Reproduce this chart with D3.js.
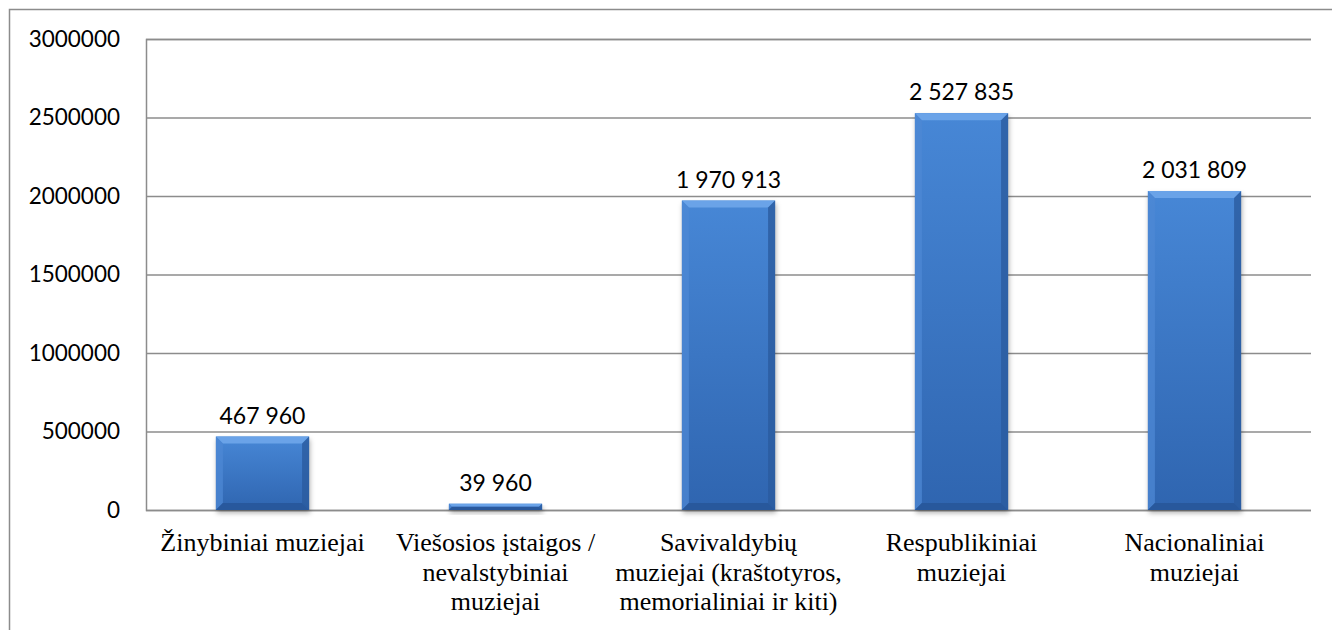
<!DOCTYPE html>
<html>
<head>
<meta charset="utf-8">
<script src="https://cdn.jsdelivr.net/npm/d3@7"></script>
<style>
  html, body { margin: 0; padding: 0; background: #fff; }
  svg { display: block; }
</style>
</head>
<body>
<svg id="chart" width="1332" height="630"></svg>
<script>
// Museum visitors by museum type
const categories = [
  ["Žinybiniai muziejai"],
  ["Viešosios įstaigos /", "nevalstybiniai", "muziejai"],
  ["Savivaldybių", "muziejai (kraštotyros,", "memorialiniai ir kiti)"],
  ["Respublikiniai", "muziejai"],
  ["Nacionaliniai", "muziejai"]
];
const values = [467960, 39960, 1970913, 2527835, 2031809];
const yTicks = [0, 500000, 1000000, 1500000, 2000000, 2500000, 3000000];

const W = 1332, H = 630;
const plot = { left: 146, right: 1311, top: 39, bottom: 510 };

const svg = d3.select("#chart");
const defs = svg.append("defs");

// Face gradient of the bars (lighter at the top, deeper at the base)
const face = defs.append("linearGradient").attr("id", "face")
  .attr("x1", 0).attr("y1", 0).attr("x2", 0).attr("y2", 1);
face.append("stop").attr("offset", "0%").attr("stop-color", "#4787d6");
face.append("stop").attr("offset", "100%").attr("stop-color", "#2f65b0");

const shadow = defs.append("filter").attr("id", "shadow")
  .attr("x", "-20%").attr("y", "-20%").attr("width", "140%").attr("height", "140%");
shadow.append("feGaussianBlur").attr("stdDeviation", 2.5);

// Outer chart frame (top and left edges visible)
svg.append("path")
  .attr("d", `M9.5,${H} V9.5 H${W}`)
  .attr("fill", "none").attr("stroke", "#8c8c8c").attr("stroke-width", 1.5);

const x = d3.scaleBand()
  .domain(d3.range(categories.length))
  .range([plot.left, plot.right])
  .paddingInner(0).paddingOuter(0);
const barW = x.step() / 2.5;

const y = d3.scaleLinear().domain([0, 3000000]).range([plot.bottom, plot.top]);

// Horizontal gridlines + tick labels through a left axis
const yAxis = d3.axisLeft(y).tickValues(yTicks).tickFormat(d3.format("d"))
  .tickSize(-(plot.right - plot.left)).tickPadding(26);
const gy = svg.append("g").attr("transform", `translate(${plot.left},0)`).call(yAxis);
gy.select(".domain").attr("stroke", "#8c8c8c").attr("stroke-width", 1.5);
gy.selectAll(".tick line").attr("stroke", "#8c8c8c").attr("stroke-width", 1.5);
gy.selectAll(".tick text")
  .attr("fill", "#000")
  .style("font-family", "Lato, 'Open Sans', sans-serif")
  .style("font-size", "22.5px");

const fmt = d3.formatLocale({ decimal: ",", thousands: " ", grouping: [3], currency: ["", ""] }).format(",d");

const bars = svg.append("g").selectAll("g.bar")
  .data(values).join("g").attr("class", "bar");

bars.each(function (v, i) {
  const g = d3.select(this);
  const x0 = x(i) + (x.step() - barW) / 2;
  const x1 = x0 + barW;
  const y0 = y(v);
  const y1 = y(0);
  const h = y1 - y0;
  const b = Math.min(7, h / 2);

  // soft shadow under the bar
  g.append("rect")
    .attr("x", x0 + 1).attr("y", y0 + 3).attr("width", barW).attr("height", h)
    .attr("fill", "rgba(0,0,0,0.3)").attr("filter", "url(#shadow)");

  g.append("rect")
    .attr("x", x0).attr("y", y0).attr("width", barW).attr("height", h)
    .attr("fill", "url(#face)");

  // bevel edges
  g.append("polygon")
    .attr("points", [[x0, y0], [x1, y0], [x1 - b, y0 + b], [x0 + b, y0 + b]].join(" "))
    .attr("fill", "#6aa3e8");
  g.append("polygon")
    .attr("points", [[x0, y0], [x0 + b, y0 + b], [x0 + b, y1 - b], [x0, y1]].join(" "))
    .attr("fill", "#4d88d4").attr("opacity", 0.75);
  g.append("polygon")
    .attr("points", [[x1, y0], [x1, y1], [x1 - b, y1 - b], [x1 - b, y0 + b]].join(" "))
    .attr("fill", "#2a5b9f").attr("opacity", 0.8);
  g.append("polygon")
    .attr("points", [[x0, y1], [x0 + b, y1 - b], [x1 - b, y1 - b], [x1, y1]].join(" "))
    .attr("fill", "#28579a").attr("opacity", 0.9);

  // value label
  g.append("text")
    .attr("x", (x0 + x1) / 2).attr("y", y0 - 13)
    .attr("text-anchor", "middle")
    .style("font-family", "Lato, 'Open Sans', sans-serif")
    .style("font-size", "23px")
    .attr("fill", "#000")
    .text(fmt(v));
});

// Category labels (Times-style serif, wrapped)
const cat = svg.append("g").selectAll("text")
  .data(categories).join("text")
  .attr("text-anchor", "middle")
  .style("font-family", "'Liberation Serif', 'Times New Roman', serif")
  .style("font-size", "26px")
  .attr("fill", "#000")
  .attr("transform", (d, i) => `translate(${x(i) + x.step() / 2},551)`);
cat.selectAll("tspan").data(d => d).join("tspan")
  .attr("x", 0).attr("dy", (d, j) => j === 0 ? 0 : 29.5)
  .text(d => d);
</script>
</body>
</html>
